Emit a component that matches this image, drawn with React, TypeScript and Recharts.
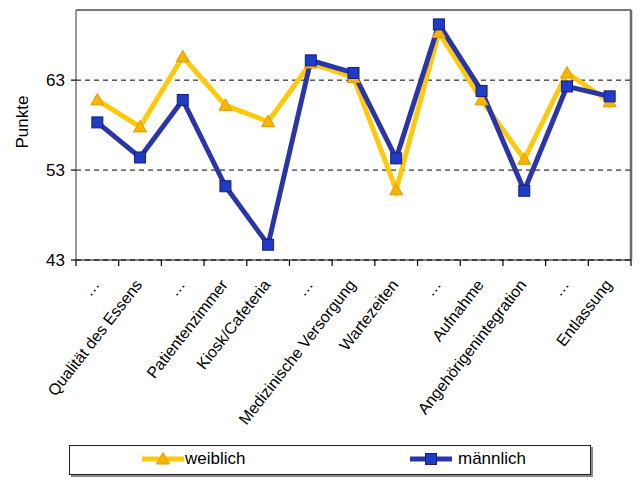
import React from 'react';
import {
  LineChart,
  Line,
  XAxis,
  YAxis,
  CartesianGrid,
  ReferenceLine,
  Legend,
} from 'recharts';

// Survey categories (x axis)
const categories: string[] = [
  '…',
  'Qualität des Essens',
  '…',
  'Patientenzimmer',
  'Kiosk/Cafeteria',
  '…',
  'Medizinische Versorgung',
  'Wartezeiten',
  '…',
  'Aufnahme',
  'Angehörigenintegration',
  '…',
  'Entlassung',
];

// Mean scores per category
const weiblich: number[] = [60.8, 57.8, 65.6, 60.2, 58.4, 64.9, 63.3, 50.8, 68.3, 60.8, 54.2, 63.8, 60.6];
const maennlich: number[] = [58.3, 54.4, 60.8, 51.2, 44.7, 65.2, 63.8, 54.3, 69.2, 61.8, 50.7, 62.3, 61.2];

const yTicks: number[] = [43, 53, 63];
const yDomain: [number, number] = [43, 70.8];

const FONT = '"Liberation Sans", Arial, sans-serif';
const YELLOW = '#FFC90E';
const YELLOW_DOT = '#F7B500';
const YELLOW_EDGE = '#E39A00';
const BLUE = '#2A35A8';
const BLUE_DOT = '#1E3CC8';
const BLUE_EDGE = '#15206E';

// each category occupies one unit; points sit in the middle of their unit
const data = categories.map((name, i) => ({
  x: i + 0.5,
  name,
  weiblich: weiblich[i],
  maennlich: maennlich[i],
}));

// unit boundaries get tick marks, unit centres get the rotated names
const xTicks: number[] = [];
for (let i = 0; i <= categories.length; i++) {
  xTicks.push(i);
  if (i < categories.length) xTicks.push(i + 0.5);
}

const TriangleDot = (props: any) => {
  const { cx, cy } = props;
  if (cx == null || cy == null) return null;
  const w = 6.5;
  return (
    <polygon
      points={`${cx},${cy - 6.5} ${cx - w},${cy + 5} ${cx + w},${cy + 5}`}
      fill={YELLOW_DOT}
      stroke={YELLOW_EDGE}
      strokeWidth={1}
    />
  );
};

const SquareDot = (props: any) => {
  const { cx, cy } = props;
  if (cx == null || cy == null) return null;
  const s = 5.5;
  return (
    <rect x={cx - s} y={cy - s} width={2 * s} height={2 * s} fill={BLUE_DOT} stroke={BLUE_EDGE} strokeWidth={1} />
  );
};

const CategoryTick = (props: any) => {
  const { x, y, payload } = props;
  const v: number = payload.value;
  if (Number.isInteger(v)) {
    return <line x1={x} y1={y} x2={x} y2={y + 6} stroke="#000" strokeWidth={1.2} />;
  }
  const label = categories[Math.floor(v)];
  return (
    <text
      transform={`translate(${x + 3},${y + 25}) rotate(-52)`}
      textAnchor="end"
      fontFamily={FONT}
      fontSize={16}
      fill="#000"
    >
      {label}
    </text>
  );
};

const PunkteLabel = (props: any) => {
  const { viewBox } = props;
  const cx = viewBox.x + 28;
  const cy = viewBox.y + viewBox.height / 2 - 13;
  return (
    <text
      x={cx}
      y={cy}
      transform={`rotate(-90, ${cx}, ${cy})`}
      textAnchor="middle"
      fontFamily={FONT}
      fontSize={17}
      fill="#000"
    >
      Punkte
    </text>
  );
};

const LegendBox = () => {
  const item = (kind: 'w' | 'm', text: string, left: number) => (
    <div style={{ position: 'absolute', left, top: 3, display: 'flex', alignItems: 'center' }}>
      <svg width={42} height={20}>
        <line x1={0} y1={10} x2={42} y2={10} stroke={kind === 'w' ? YELLOW : BLUE} strokeWidth={5} />
        {kind === 'w' ? (
          <polygon points="21,3.5 14.5,15 27.5,15" fill={YELLOW_DOT} stroke={YELLOW_EDGE} strokeWidth={1} />
        ) : (
          <rect x={15.5} y={4.5} width={11} height={11} fill={BLUE_DOT} stroke={BLUE_EDGE} strokeWidth={1} />
        )}
      </svg>
      <span style={{ fontFamily: FONT, fontSize: 17, color: '#000', marginLeft: kind === 'w' ? 1 : 6 }}>{text}</span>
    </div>
  );
  return (
    <div
      style={{
        position: 'relative',
        width: 520,
        height: 28,
        border: '1px solid #222',
        boxShadow: '2px 2px 0 #8a8a8a',
        background: '#fff',
      }}
    >
      {item('w', 'weiblich', 72)}
      {item('m', 'männlich', 340)}
    </div>
  );
};

export default function App() {
  return (
    <div style={{ position: 'absolute', left: 0, top: 0, width: 640, height: 480, background: '#fff' }}>
      <LineChart
        width={640}
        height={480}
        data={data}
        margin={{ top: 10, right: 9, bottom: 0, left: 0 }}
      >
        <CartesianGrid horizontal vertical={false} stroke="#000" strokeDasharray="5 4" strokeWidth={1} />
        <XAxis
          type="number"
          dataKey="x"
          domain={[0, categories.length]}
          ticks={xTicks}
          interval={0}
          height={220}
          tickLine={false}
          tickSize={0}
          tickMargin={0}
          axisLine={{ stroke: '#000', strokeWidth: 1.2 }}
          tick={<CategoryTick />}
          allowDecimals
        />
        <YAxis
          type="number"
          domain={yDomain}
          ticks={yTicks}
          width={76}
          tickSize={5}
          tickMargin={6}
          axisLine={{ stroke: '#555', strokeWidth: 1.2 }}
          tickLine={{ stroke: '#000', strokeWidth: 1.2 }}
          tick={{ fontFamily: FONT, fontSize: 17, fill: '#000' }}
          label={<PunkteLabel />}
          allowDataOverflow
        />
        <ReferenceLine y={yDomain[1]} stroke="#7a7a7a" strokeWidth={2} />
        <ReferenceLine x={categories.length} stroke="#6a6a6a" strokeWidth={2.5} />
        <Legend
          layout="horizontal"
          verticalAlign="middle"
          align="center"
          content={<LegendBox />}
          wrapperStyle={{ position: 'absolute', left: 69, top: 445, width: 524, height: 32 }}
        />
        <Line
          type="linear"
          dataKey="weiblich"
          name="weiblich"
          stroke={YELLOW}
          strokeWidth={5}
          dot={<TriangleDot />}
          activeDot={false}
          isAnimationActive={false}
        />
        <Line
          type="linear"
          dataKey="maennlich"
          name="männlich"
          stroke={BLUE}
          strokeWidth={5}
          dot={<SquareDot />}
          activeDot={false}
          isAnimationActive={false}
        />
      </LineChart>
    </div>
  );
}
